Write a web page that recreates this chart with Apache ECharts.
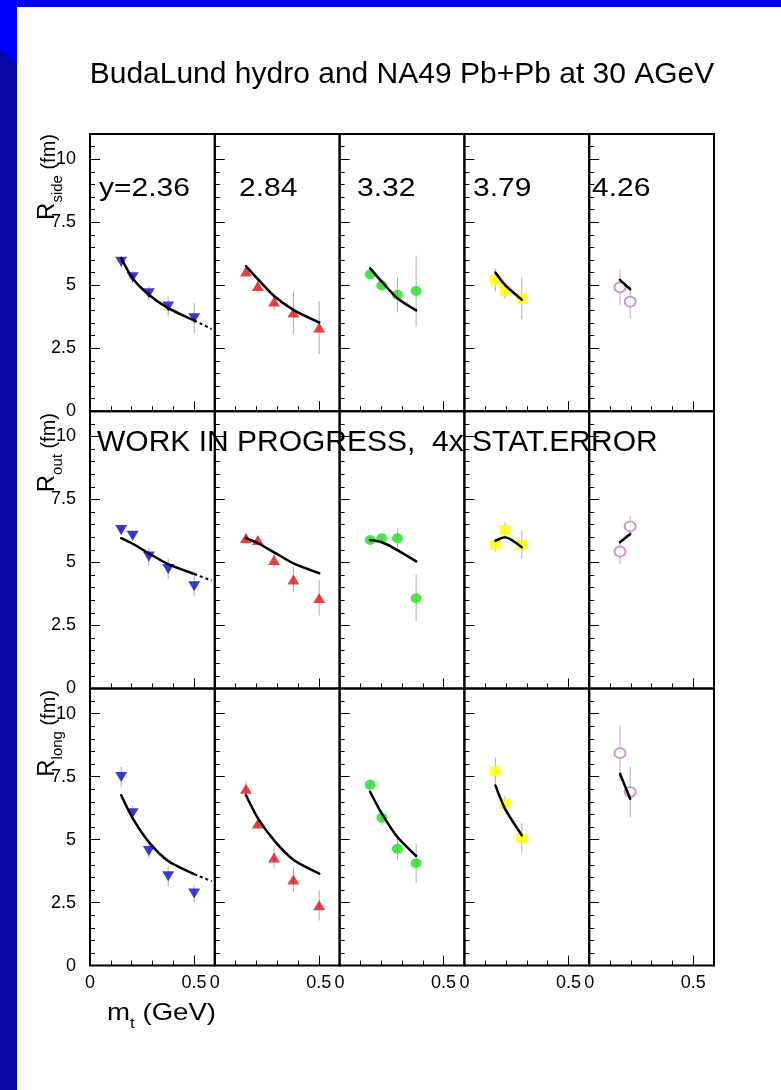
<!DOCTYPE html>
<html><head><meta charset="utf-8">
<script src="https://cdn.jsdelivr.net/npm/echarts@6/dist/echarts.min.js"></script>
<style>html,body{margin:0;padding:0;background:#fff}#c{width:781px;height:1090px}</style>
</head><body><div id="c"></div>
<script>
// ---------- data ----------
const chartTitle = 'BudaLund hydro and NA49 Pb+Pb at 30 AGeV';
const rapidityLabels = ['y=2.36', '2.84', '3.32', '3.79', '4.26'];
const radiusNames = ['side', 'out', 'long'];
const noteText = 'WORK IN PROGRESS,  4x STAT.ERROR';
const xAxisTitle = 'm';
const xAxisTitleSub = 't';
const xAxisUnit = ' (GeV)';
const yAxisUnit = ' (fm)';
const yTickLabels = ['0', '2.5', '5', '7.5', '10'];
const xTickLabels = ['0', '0.5'];

// m_t positions of the points, one array per rapidity column
const mtValues = [
  [0.150, 0.205, 0.283, 0.376, 0.501],
  [0.150, 0.207, 0.285, 0.378, 0.502],
  [0.147, 0.203, 0.278, 0.368],
  [0.149, 0.195, 0.276],
  [0.148, 0.197]
];

// R_side
const rSide = [[5.93, 5.32, 4.68, 4.15, 3.69], [5.54, 4.97, 4.35, 3.92, 3.32], [5.43, 4.99, 4.62, 4.77], [5.21, 4.77, 4.48], [4.92, 4.35]];
const rSideErr = [[0.23, 0.23, 0.27, 0.40, 0.60], [0.15, 0.30, 0.35, 0.85, 1.05], [0.15, 0.20, 0.70, 1.40], [0.45, 0.30, 0.83], [0.70, 0.68]];
const rSideModel = [[6.07, 5.28, 4.62, 4.09, 3.60], [5.76, 5.24, 4.57, 4.02, 3.52], [5.67, 5.14, 4.48, 4.00], [5.50, 5.01, 4.42], [5.21, 4.84]];

// R_out
const rOut = [[6.29, 6.06, 5.23, 4.74, 4.05], [5.97, 5.89, 5.10, 4.32, 3.59], [5.89, 5.96, 5.96, 3.58], [5.69, 6.29, 5.69], [5.43, 6.43]];
const rOutErr = [[0.20, 0.20, 0.35, 0.40, 0.40], [0.15, 0.15, 0.30, 0.50, 0.70], [0.15, 0.15, 0.40, 0.93], [0.25, 0.30, 0.55], [0.50, 0.40]];
const rOutModel = [[5.96, 5.74, 5.36, 4.93, 4.54], [5.96, 5.76, 5.40, 4.96, 4.57], [5.89, 5.80, 5.49, 5.04], [5.86, 6.00, 5.60], [5.80, 6.13]];

// R_long
const rLong = [[7.48, 6.05, 4.55, 3.55, 2.86], [7.02, 5.64, 4.29, 3.42, 2.39], [7.18, 5.87, 4.64, 4.06], [7.71, 6.43, 5.05], [8.43, 6.89]];
const rLongErr = [[0.40, 0.30, 0.30, 0.40, 0.35], [0.30, 0.20, 0.40, 0.50, 0.60], [0.25, 0.30, 0.43, 0.76], [0.55, 0.30, 0.60], [1.10, 1.00]];
const rLongModel = [[6.76, 5.85, 4.90, 4.15, 3.63], [6.76, 5.85, 4.97, 4.20, 3.65], [6.89, 6.03, 5.10, 4.35], [7.15, 6.23, 5.17], [7.61, 6.62]];

// extrapolation of the model beyond the last point (first column only)
const extensionMt = 0.585;
const extensionValues = [3.26, 4.28, 3.35];

// ---------- styles ----------
const markerColors = ['#0a0ad0', '#dd1515', '#1fe01f', '#ffff00', '#c47ec4'];
const markerSymbols = ['triangle', 'triangle', 'circle', 'rect', 'emptyCircle'];
const markerRotate = [180, 0, 0, 0, 0];
const markerSizes = [[12, 10], [12, 10], [11, 10], [11, 10], [11, 10]];

const rowValues = [rSide, rOut, rLong];
const rowErrors = [rSideErr, rOutErr, rLongErr];
const rowModels = [rSideModel, rOutModel, rLongModel];

const L0 = 90, T0 = 134, W = 124.8, H = 277.2;
const FONT = 'Liberation Sans, Arial, Helvetica, sans-serif';

const grids = [], xAxes = [], yAxes = [], series = [];
for (let r = 0; r < 3; r++) {
  for (let c = 0; c < 5; c++) {
    const g = r * 5 + c;
    grids.push({
      left: L0 + c * W, top: T0 + r * H, width: W, height: H,
      show: true, borderColor: '#000', borderWidth: 2, backgroundColor: 'transparent'
    });
    const common = { gridIndex: g, type: 'value', axisLine: { show: false }, splitLine: { show: false } };
    xAxes.push(Object.assign({}, common, {
      position: 'bottom', min: 0, max: 0.6, interval: 0.1,
      axisTick: { show: true, inside: true, length: 5, lineStyle: { color: '#000', width: 1 } },
      axisLabel: { show: false }
    }));
    xAxes.push(Object.assign({}, common, {
      position: 'bottom', min: 0, max: 0.6, interval: 0.5,
      axisTick: { show: true, inside: true, length: 10, lineStyle: { color: '#000', width: 1 } },
      axisLabel: {
        show: r === 2, margin: 8, fontSize: 18, color: '#000', fontFamily: FONT,
        showMaxLabel: false,
        formatter: v => Math.abs(v) < 1e-9 ? xTickLabels[0] : (Math.abs(v - 0.5) < 1e-9 ? xTickLabels[1] : '')
      }
    }));
    yAxes.push(Object.assign({}, common, {
      position: 'left', min: 0, max: 11, interval: 0.5,
      axisTick: { show: true, inside: true, length: 5, lineStyle: { color: '#000', width: 1 } },
      axisLabel: { show: false }
    }));
    yAxes.push(Object.assign({}, common, {
      position: 'left', min: 0, max: 11, interval: 2.5,
      axisTick: { show: true, inside: true, length: 10, lineStyle: { color: '#000', width: 1 } },
      axisLabel: {
        show: c === 0, margin: 14, fontSize: 18, color: '#000', fontFamily: FONT,
        showMaxLabel: false,
        formatter: v => {
          const k = Math.round(v / 2.5);
          return (Math.abs(v - k * 2.5) < 1e-9 && k < yTickLabels.length) ? yTickLabels[k] : '';
        }
      }
    }));

    const xi = 2 * g + 1, yi = 2 * g + 1;
    const xs = mtValues[c];
    const vals = rowValues[r][c], errs = rowErrors[r][c], model = rowModels[r][c];

    series.push({
      type: 'custom', xAxisIndex: xi, yAxisIndex: yi, z: 1, silent: true,
      data: xs.map((x, i) => [x, vals[i], errs[i]]),
      encode: { x: 0, y: 1 },
      renderItem: (params, api) => {
        const x = api.value(0), y = api.value(1), e = api.value(2);
        const p1 = api.coord([x, y - e]), p2 = api.coord([x, y + e]);
        return { type: 'line', shape: { x1: p1[0], y1: p1[1], x2: p2[0], y2: p2[1] },
                 style: { stroke: '#b0b0b0', lineWidth: 1 } };
      }
    });
    series.push({
      type: 'scatter', xAxisIndex: xi, yAxisIndex: yi, z: 2, silent: true,
      symbol: markerSymbols[c], symbolRotate: markerRotate[c], symbolSize: markerSizes[c],
      itemStyle: c === 4 ? { color: markerColors[c], borderColor: markerColors[c], borderWidth: 1.2 }
                         : { color: markerColors[c] },
      data: xs.map((x, i) => [x, vals[i]])
    });
    series.push({
      type: 'line', xAxisIndex: xi, yAxisIndex: yi, z: 3, silent: true,
      smooth: 0.25, showSymbol: false, symbol: 'none',
      lineStyle: { color: '#000', width: 2.5, join: 'round', cap: 'round' },
      data: xs.map((x, i) => [x, model[i]])
    });
    if (c === 0) {
      const n = xs.length - 1;
      series.push({
        type: 'line', xAxisIndex: xi, yAxisIndex: yi, z: 3, silent: true,
        showSymbol: false, symbol: 'none',
        lineStyle: { color: '#000', width: 2, type: [3, 3] },
        data: [[xs[n], model[n]], [extensionMt, extensionValues[r]]]
      });
    }
  }
}

// ---------- text & decoration ----------
const graphics = [
  { type: 'rect', shape: { x: 0, y: 0, width: 17, height: 1090 }, style: { fill: '#0707a4' }, z: -10 },
  { type: 'polygon', shape: { points: [[0, 0], [17, 0], [17, 64], [0, 50]] }, style: { fill: '#0000ff' }, z: -9 },
  { type: 'rect', shape: { x: 0, y: 0, width: 781, height: 7 }, style: { fill: '#0000ff' }, z: -9 },
  { type: 'text', x: 402, y: 75, z: 10,
    style: { text: chartTitle, fontSize: 30, fontFamily: FONT, fill: '#000', align: 'center', verticalAlign: 'middle', textAlign: 'center', textVerticalAlign: 'middle' } },
  { type: 'text', x: 97, y: 443, z: 10,
    style: { text: noteText, fontSize: 30, fontFamily: FONT, fill: '#000', align: 'left', verticalAlign: 'middle', textAlign: 'left', textVerticalAlign: 'middle' } }
];
const rapX = [99, 239, 357, 473, 592];
rapidityLabels.forEach((t, i) => {
  graphics.push({ type: 'text', x: rapX[i], y: 189, scaleX: 1.2, z: 10,
    style: { text: t, fontSize: 25, fontFamily: FONT, fill: '#000', align: 'left', verticalAlign: 'middle', textAlign: 'left', textVerticalAlign: 'middle' } });
});
const nameY = [134, 413, 690];
radiusNames.forEach((nm, r) => {
  graphics.push({ type: 'text', x: 50, y: nameY[r], rotation: Math.PI / 2, z: 10,
    style: {
      text: '{R|R}{s|' + nm + '}{f|' + yAxisUnit + '}',
      align: 'right', verticalAlign: 'middle', textAlign: 'right', textVerticalAlign: 'middle',
      rich: {
        R: { fontSize: 24, fontFamily: FONT, fill: '#000', color: '#000', verticalAlign: 'bottom', padding: [0, 0, 6, 0] },
        s: { fontSize: 15, fontFamily: FONT, fill: '#000', color: '#000', verticalAlign: 'bottom' },
        f: { fontSize: 20, fontFamily: FONT, fill: '#000', color: '#000', verticalAlign: 'bottom', padding: [0, 0, 6, 0] }
      }
    } });
});
graphics.push({ type: 'text', x: 107, y: 1016, scaleX: 1.15, z: 10,
  style: {
    text: '{m|' + xAxisTitle + '}{t|' + xAxisTitleSub + '}{g|' + xAxisUnit + '}',
    align: 'left', verticalAlign: 'middle', textAlign: 'left', textVerticalAlign: 'middle',
    rich: {
      m: { fontSize: 24, fontFamily: FONT, fill: '#000', color: '#000', verticalAlign: 'bottom', padding: [0, 0, 6, 0] },
      t: { fontSize: 15, fontFamily: FONT, fill: '#000', color: '#000', verticalAlign: 'bottom' },
      g: { fontSize: 24, fontFamily: FONT, fill: '#000', color: '#000', verticalAlign: 'bottom', padding: [0, 0, 6, 0] }
    }
  } });

const chart = echarts.init(document.getElementById('c'), null, { renderer: 'canvas' });
chart.setOption({
  animation: false,
  backgroundColor: '#fff',
  grid: grids, xAxis: xAxes, yAxis: yAxes, series: series,
  graphic: { elements: graphics }
});
</script></body></html>
